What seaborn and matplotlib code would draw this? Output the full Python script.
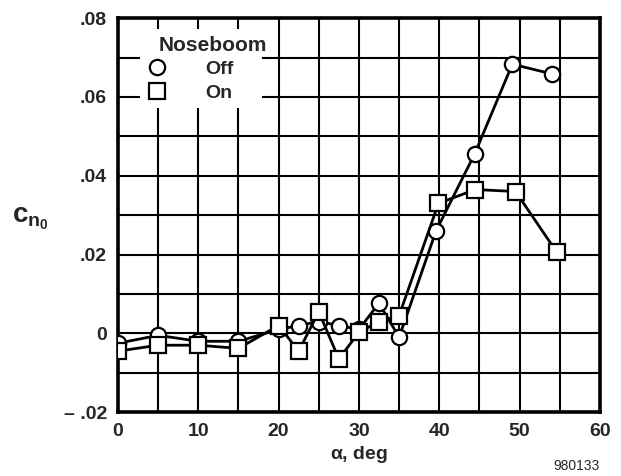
import matplotlib
matplotlib.use("Agg")
import matplotlib.pyplot as plt
from matplotlib.lines import Line2D
import seaborn as sns
import pandas as pd
import numpy as np

# ---- data ----
alpha_off = [0, 5, 10, 15, 20, 22.5, 25, 27.5, 30, 32.5, 35, 39.6, 44.4, 49.1, 54.1]
cn_off = [-0.0025, -0.0005, -0.002, -0.002, 0.001, 0.002, 0.003, 0.002, 0.001,
          0.0077, -0.001, 0.026, 0.0455, 0.0683, 0.0658]
alpha_on = [0, 5, 10, 15, 20, 22.5, 25, 27.5, 30, 32.5, 35, 39.9, 44.5, 49.5, 54.6]
cn_on = [-0.0045, -0.003, -0.003, -0.0038, 0.002, -0.0045, 0.0055, -0.0065, 0.0003,
         0.003, 0.0045, 0.033, 0.0365, 0.036, 0.0207]

xticks = [0, 10, 20, 30, 40, 50, 60]
yticks = [-0.02, 0, 0.02, 0.04, 0.06, 0.08]
ytick_labels = ["\u2013 .02", "0", ".02", ".04", ".06", ".08"]

df = pd.concat([
    pd.DataFrame({"alpha": alpha_off, "cn": cn_off, "Noseboom": "Off"}),
    pd.DataFrame({"alpha": alpha_on, "cn": cn_on, "Noseboom": "On"}),
], ignore_index=True)

sns.set_style("white")
plt.rcParams["font.family"] = ["Liberation Sans", "DejaVu Sans"]
plt.rcParams["mathtext.fontset"] = "custom"
plt.rcParams["mathtext.rm"] = "Liberation Sans:bold"
plt.rcParams["mathtext.it"] = "Liberation Sans:bold"
plt.rcParams["mathtext.bf"] = "Liberation Sans:bold"

fig = plt.figure(figsize=(6.21, 4.76), dpi=100)
ax = fig.add_axes([0.190, 0.134, 0.776, 0.828])

# grid
for gx in np.arange(0, 61, 5):
    ax.axvline(gx, color="black", lw=1.5, zorder=1)
for gy in np.arange(-0.02, 0.081, 0.01):
    ax.axhline(gy, color="black", lw=1.5, zorder=1)

sns.lineplot(data=df, x="alpha", y="cn", style="Noseboom",
             markers={"Off": "o", "On": "s"}, dashes=False, color="black",
             lw=2.0, ms=11, mfc="white", mec="black", mew=1.6,
             legend=False, ax=ax, zorder=3, estimator=None)

ax.set_xlim(0, 60)
ax.set_ylim(-0.02, 0.08)
ax.set_xticks(xticks)
ax.set_xticklabels([str(t) for t in xticks], fontsize=14, fontweight="bold")
ax.set_yticks(yticks)
ax.set_yticklabels(ytick_labels, fontsize=14, fontweight="bold")
ax.tick_params(length=0, pad=8)
for s in ax.spines.values():
    s.set_linewidth(2.6)
    s.set_color("black")
    s.set_visible(True)
ax.set_xlabel("")
ax.set_ylabel("")

# legend
handles = [
    Line2D([], [], ls="none", marker="o", ms=11, mfc="white", mec="black", mew=1.6),
    Line2D([], [], ls="none", marker="s", ms=11, mfc="white", mec="black", mew=1.6),
]
leg = ax.legend(handles, ["Off", "On"], title="Noseboom", loc="upper left",
                bbox_to_anchor=(0.026, 0.997), frameon=True, handlelength=1.0,
                handletextpad=2.0, borderpad=0.35, labelspacing=0.3,
                alignment="left",
                prop={"weight": "bold", "size": 14},
                title_fontproperties={"weight": "bold", "size": 15})
leg.get_frame().set_edgecolor("none")
leg.get_frame().set_facecolor("white")
leg.get_frame().set_alpha(1)
leg.set_zorder(5)
leg.get_title().set_position((12, 0))

fig.text(0.02, 0.541, r"$\mathrm{c}_{\mathrm{n}_0}$", fontsize=20, ha="left", va="center")
fig.text(0.578, 0.045, r"$\alpha$, deg", fontsize=14, fontweight="bold", ha="center", va="center")
fig.text(0.965, 0.022, "980133", fontsize=10, ha="right", va="center")

fig.savefig("out.png", dpi=100)
